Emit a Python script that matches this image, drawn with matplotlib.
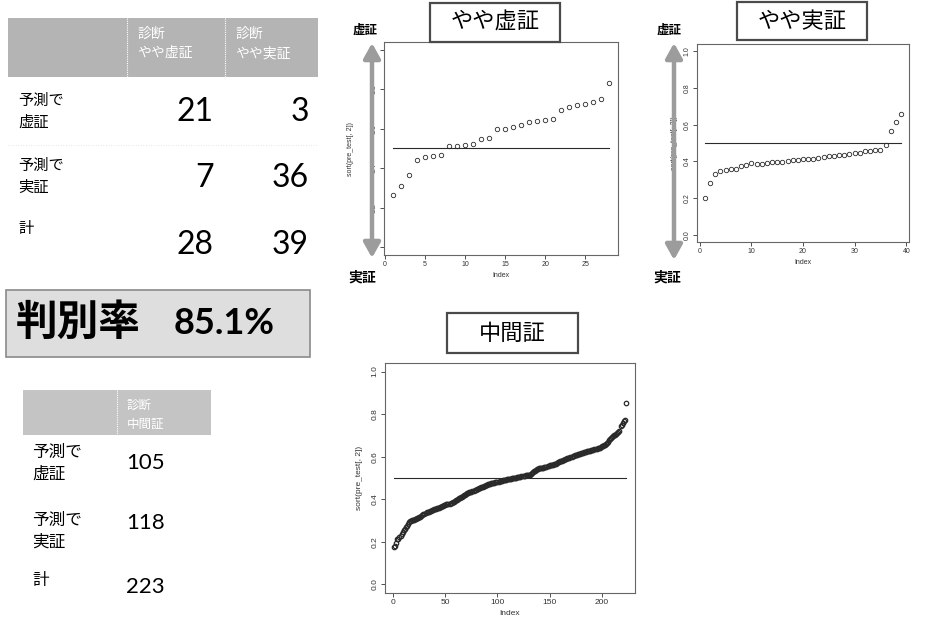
import matplotlib
matplotlib.use('Agg')
import matplotlib.pyplot as plt
from matplotlib.patches import Rectangle
import numpy as np

W, H = 931, 625
CJK = ['Noto Sans CJK JP', 'DejaVu Sans']
NUM = ['Lato', 'DejaVu Sans']
RF = ['Liberation Sans', 'DejaVu Sans']

# ---------------- data ----------------
t1_cols = ['診断\nやや虚証', '診断\nやや実証']
t1_rows = ['予測で\n虚証', '予測で\n実証', '計']
t1_vals = [[21, 3], [7, 36], [28, 39]]
acc_label = '判別率'
acc_value = '85.1%'
t2_cols = ['診断\n中間証']
t2_rows = ['予測で\n虚証', '予測で\n実証', '計']
t2_vals = [105, 118, 223]

titles = ['やや虚証', 'やや実証', '中間証']
scale_top = '虚証'
scale_bottom = '実証'
threshold = 0.5
ylab = 'sort(pre_test[, 2])'
xlab = 'Index'
yticks = [0.0, 0.2, 0.4, 0.6, 0.8, 1.0]
ytick_labels = ['0.0', '0.2', '0.4', '0.6', '0.8', '1.0']
xticks1 = [0, 5, 10, 15, 20, 25]
xticks2 = [0, 10, 20, 30, 40]
xticks3 = [0, 50, 100, 150, 200]

yaya_kyo = [0.263, 0.310, 0.364, 0.441, 0.458, 0.461, 0.466, 0.512, 0.515, 0.517,
            0.525, 0.546, 0.554, 0.598, 0.598, 0.607, 0.617, 0.632, 0.641, 0.644,
            0.651, 0.695, 0.712, 0.722, 0.725, 0.734, 0.751, 0.831]

yaya_jitsu = [0.200, 0.282, 0.331, 0.349, 0.355, 0.358, 0.360, 0.373, 0.380, 0.391,
              0.387, 0.387, 0.391, 0.396, 0.396, 0.398, 0.402, 0.405, 0.409, 0.411,
              0.413, 0.413, 0.416, 0.424, 0.429, 0.429, 0.433, 0.433, 0.438, 0.444,
              0.447, 0.455, 0.455, 0.460, 0.464, 0.487, 0.564, 0.613, 0.658]

chukan = [0.177, 0.183, 0.196, 0.212, 0.214, 0.222, 0.228, 0.236, 0.248, 0.258,
          0.262, 0.268, 0.276, 0.285, 0.292, 0.297, 0.299, 0.301, 0.303, 0.305,
          0.306, 0.308, 0.311, 0.313, 0.315, 0.318, 0.322, 0.325, 0.329, 0.332,
          0.336, 0.339, 0.340, 0.342, 0.344, 0.346, 0.348, 0.350, 0.353, 0.355,
          0.356, 0.357, 0.359, 0.361, 0.363, 0.365, 0.367, 0.370, 0.372, 0.374,
          0.376, 0.378, 0.379, 0.380, 0.381, 0.383, 0.385, 0.388, 0.392, 0.396,
          0.399, 0.402, 0.404, 0.406, 0.409, 0.412, 0.415, 0.418, 0.421, 0.425,
          0.428, 0.430, 0.432, 0.434, 0.436, 0.438, 0.441, 0.444, 0.446, 0.448,
          0.450, 0.452, 0.454, 0.456, 0.458, 0.460, 0.462, 0.464, 0.466, 0.469,
          0.470, 0.472, 0.473, 0.475, 0.476, 0.477, 0.478, 0.479, 0.480, 0.481,
          0.483, 0.484, 0.485, 0.487, 0.489, 0.490, 0.491, 0.492, 0.493, 0.494,
          0.495, 0.496, 0.497, 0.498, 0.499, 0.500, 0.501, 0.502, 0.504, 0.505,
          0.506, 0.507, 0.508, 0.509, 0.510, 0.511, 0.512, 0.513, 0.514, 0.515,
          0.516, 0.519, 0.523, 0.527, 0.531, 0.535, 0.538, 0.541, 0.543, 0.545,
          0.546, 0.547, 0.548, 0.549, 0.550, 0.552, 0.554, 0.556, 0.558, 0.560,
          0.561, 0.562, 0.563, 0.565, 0.566, 0.568, 0.570, 0.573, 0.575, 0.578,
          0.580, 0.582, 0.584, 0.586, 0.588, 0.590, 0.592, 0.594, 0.596, 0.598,
          0.600, 0.602, 0.604, 0.606, 0.608, 0.609, 0.611, 0.613, 0.615, 0.616,
          0.617, 0.619, 0.621, 0.622, 0.624, 0.625, 0.627, 0.628, 0.629, 0.630,
          0.631, 0.632, 0.634, 0.636, 0.637, 0.639, 0.641, 0.643, 0.645, 0.648,
          0.651, 0.654, 0.656, 0.660, 0.665, 0.671, 0.677, 0.683, 0.689, 0.694,
          0.698, 0.701, 0.704, 0.708, 0.713, 0.718, 0.722, 0.742, 0.750, 0.758,
          0.766, 0.774, 0.852]

# ---------------- figure ----------------
fig = plt.figure(figsize=(W / 100, H / 100), dpi=100)
fig.patch.set_facecolor('white')

bg = fig.add_axes([0, 0, 1, 1], zorder=0)
bg.set_xlim(0, W)
bg.set_ylim(H, 0)
bg.axis('off')


def txt(ax, x, y, s, size, family=CJK, **kw):
    kw.setdefault('va', 'center')
    kw.setdefault('ha', 'left')
    ax.text(x, y, s, fontsize=size, family=family, **kw)


# ---- table 1 ----
bg.add_patch(Rectangle((8, 18), 310, 59, facecolor='#b4b4b4', edgecolor='none'))
for xd in [127, 225]:
    bg.plot([xd, xd], [18, 77], color='white', lw=0.8, ls=(0, (1, 1)))
for cx, col in zip([137, 235], t1_cols):
    l1, l2 = col.split('\n')
    txt(bg, cx, 34, l1, 10, color='white')
    txt(bg, cx, 53, l2, 10, color='white')
row_y1 = [(100, 122), (165, 187), (228, None)]
val_y1 = [112, 178, 245]
for (ya, yb), lab in zip(row_y1, t1_rows):
    parts = lab.split('\n')
    txt(bg, 18, ya, parts[0], 11)
    if len(parts) > 1:
        txt(bg, 18, yb, parts[1], 11)
for vy, row in zip(val_y1, t1_vals):
    for rx, v in zip([214, 309], row):
        txt(bg, rx, vy, str(v), 23, family=NUM, ha='right')
bg.plot([8, 318], [145, 145], color='#dddddd', lw=0.6, ls=(0, (1, 2)))

# ---- accuracy box ----
bg.add_patch(Rectangle((6, 290), 304, 67, facecolor='#dedede', edgecolor='#8a8a8a', lw=1.2))
txt(bg, 16, 323, acc_label, 30, weight='bold')
txt(bg, 174, 323, acc_value, 26, family=NUM, weight='bold')

# ---- table 2 ----
bg.add_patch(Rectangle((23, 390), 188, 45, facecolor='#c4c4c4', edgecolor='none'))
bg.plot([117, 117], [390, 435], color='white', lw=0.8, ls=(0, (1, 1)))
l1, l2 = t2_cols[0].split('\n')
txt(bg, 127, 405, l1, 9, color='white')
txt(bg, 127, 424, l2, 9, color='white')
row_y2 = [(452, 474), (520, 542), (580, None)]
val_y2 = [463, 523, 587]
for (ya, yb), lab in zip(row_y2, t2_rows):
    parts = lab.split('\n')
    txt(bg, 32, ya, parts[0], 12)
    if len(parts) > 1:
        txt(bg, 32, yb, parts[1], 12)
for vy, v in zip(val_y2, t2_vals):
    txt(bg, 126, vy, str(v), 16, family=NUM)


# ---- R-style scatter plots ----
def rplot(rect, vals, xticks, tsize, ylabelpad, xlabelpad, mew):
    x0, y0, x1, y1 = rect
    ax = fig.add_axes([x0 / W, 1 - y1 / H, (x1 - x0) / W, (y1 - y0) / H], zorder=1)
    n = len(vals)
    idx = np.arange(1, n + 1)
    ax.plot(idx, vals, ls='none', marker='o', ms=3.2, mfc='none', mec='#2a2a2a', mew=mew)
    ax.plot([1, n], [threshold, threshold], color='#2a2a2a', lw=0.8)
    pad = 0.04 * (n - 1)
    ax.set_xlim(1 - pad, n + pad)
    ax.set_ylim(-0.04, 1.04)
    ax.set_xticks(xticks)
    ax.set_yticks(yticks)
    ax.set_yticklabels(ytick_labels)
    ax.tick_params(length=3, width=0.6, pad=1.5, labelsize=tsize, colors='#333')
    for lab in ax.get_xticklabels() + ax.get_yticklabels():
        lab.set_family(RF)
    for lab in ax.get_yticklabels():
        lab.set_rotation(90)
        lab.set_va('center')
    for sp in ax.spines.values():
        sp.set_color('#666')
        sp.set_linewidth(0.8)
        sp.set_linestyle((0, (1, 1)))
    ax.set_xlabel(xlab, fontsize=tsize, family=RF, labelpad=xlabelpad, color='#333')
    ax.set_ylabel(ylab, fontsize=tsize, family=RF, labelpad=ylabelpad, color='#333')
    return ax


rplot((384, 42, 618, 255), yaya_kyo, xticks1, 5, 12, 3, 0.6)
rplot((697, 44, 909, 242), yaya_jitsu, xticks2, 5, 4, 3, 0.6)
rplot((385, 363, 635, 593), chukan, xticks3, 6, 6, 3, 0.9)

# ---- overlay: arrows, scale labels, title boxes ----
ov = fig.add_axes([0, 0, 1, 1], zorder=5)
ov.set_xlim(0, W)
ov.set_ylim(H, 0)
ov.axis('off')
ov.patch.set_alpha(0)

for ax_x, ya, yb, top_xy, bot_xy in [(372, 43, 258, (365, 30), (362, 278)),
                                      (674, 43, 260, (669, 30), (667, 278))]:
    ov.annotate('', xy=(ax_x, ya), xytext=(ax_x, yb),
                arrowprops=dict(arrowstyle='<|-|>,head_length=0.9,head_width=0.5',
                                lw=3.2, color='#9c9c9c', mutation_scale=10,
                                shrinkA=0, shrinkB=0))
    txt(ov, top_xy[0], top_xy[1], scale_top, 9, ha='center', weight='bold')
    txt(ov, bot_xy[0], bot_xy[1], scale_bottom, 10, ha='center', weight='bold')

for (bx0, by0, bx1, by1), t in zip([(430, 3, 560, 42), (737, 2, 867, 40), (447, 313, 578, 353)], titles):
    ov.add_patch(Rectangle((bx0, by0), bx1 - bx0, by1 - by0, facecolor='white',
                           edgecolor='#4a4a4a', lw=1.6))
    txt(ov, (bx0 + bx1) / 2, (by0 + by1) / 2, t, 16, ha='center')

fig.savefig('out.png', dpi=100, facecolor='white')
